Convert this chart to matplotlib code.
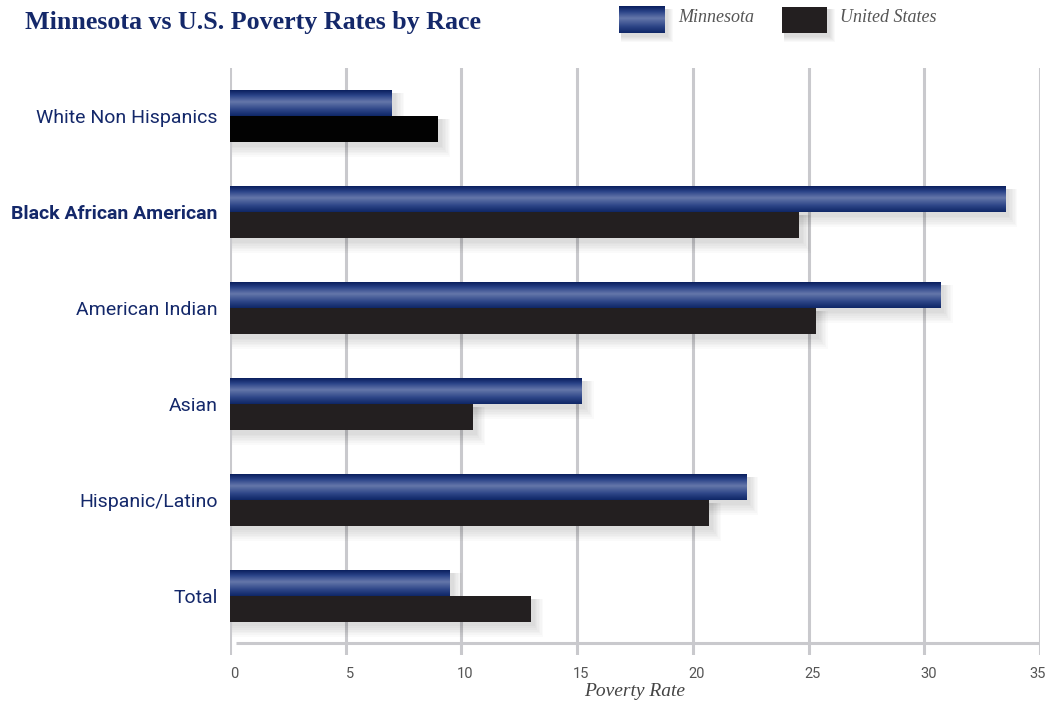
import matplotlib
matplotlib.use("Agg")
import matplotlib.pyplot as plt
import numpy as np
from matplotlib.colors import LinearSegmentedColormap
from matplotlib.patches import Rectangle
from matplotlib.transforms import ScaledTranslation

categories = ["White Non Hispanics", "Black African American", "American Indian",
              "Asian", "Hispanic/Latino", "Total"]
minnesota = [7.0, 33.5, 30.7, 15.2, 22.3, 9.5]
united_states = [9.0, 24.6, 25.3, 10.5, 20.7, 13.0]
xticks = [0, 5, 10, 15, 20, 25, 30, 35]

NAVY = "#14286a"
GRID = "#c9c9cd"
sans = ["Roboto", "DejaVu Sans"]
serif = ["Liberation Serif", "DejaVu Serif"]

fig = plt.figure(figsize=(10.47, 7.02), dpi=100)
ax = fig.add_axes([230/1047, 1-655/702, 810/1047, 587/702])
ax.set_xlim(0, 35)
ax.set_ylim(5.615, -0.5)

for s in ax.spines.values():
    s.set_visible(False)
ax.tick_params(length=0)

for t in xticks:
    ax.axvline(t, color=GRID, lw=2.2, zorder=0)
ax.plot([0.25, 35], [5.49, 5.49], color=GRID, lw=2.2, zorder=0.5, solid_capstyle="butt")

cmap = LinearSegmentedColormap.from_list(
    "mn", [(0, "#0a1f5e"), (0.2, "#2a4388"), (0.45, "#6577aa"), (0.75, "#2e4688"), (1, "#0f2767")])
grad = np.linspace(0, 1, 64).reshape(-1, 1)

h = 0.27

def shadow(x0, y0, w, hh):
    for k in range(1, 8):
        ax.add_patch(Rectangle((x0 + 0.1, y0 + 0.03), w + 0.06 * k, hh + 0.018 * k,
                               facecolor="black", alpha=0.018, lw=0, zorder=1))

for i, (mn, us) in enumerate(zip(minnesota, united_states)):
    shadow(0, i - h, mn, h)
    shadow(0, i, us, h)
    ax.imshow(grad, cmap=cmap, aspect="auto", extent=(0, mn, i, i - h),
              zorder=3, interpolation="bilinear")
    color = "#020202" if i == 0 else "#231f20"
    ax.barh(i + h / 2, us, height=h, color=color, zorder=3)

ax.set_xlim(0, 35)
ax.set_ylim(5.615, -0.5)

ax.set_yticks(range(len(categories)))
ax.set_yticklabels(categories, fontsize=14, color=NAVY, family=sans)
ax.get_yticklabels()[1].set_fontweight("bold")
ax.tick_params(axis="y", pad=9)
ax.set_xticks(xticks)
ax.set_xticklabels([str(t) for t in xticks], fontsize=10.5, color="#555555", family=sans)
ax.tick_params(axis="x", pad=9)
off = ScaledTranslation(4/100, 0, fig.dpi_scale_trans)
labels = ax.get_xticklabels()
for lbl in labels:
    lbl.set_horizontalalignment("center")
    lbl.set_transform(lbl.get_transform() + off)
labels[-1].set_horizontalalignment("right")
labels[-1].set_transform(labels[-1].get_transform() + ScaledTranslation(2/100, 0, fig.dpi_scale_trans))
ax.set_xlabel("Poverty Rate", fontsize=14, style="italic", color="#444444", family=serif, labelpad=1)

fig.text(25/1047, 1-23/702, "Minnesota vs U.S. Poverty Rates by Race", fontsize=18.7,
         fontweight="bold", color=NAVY, family=serif, va="center")

# legend
lax = fig.add_axes([0, 0, 1, 1], zorder=5)
lax.set_xlim(0, 1047)
lax.set_ylim(702, 0)
lax.axis("off")
for k in range(1, 7):
    lax.add_patch(Rectangle((621, 9), 46 + k, 27 + k, facecolor="black", alpha=0.025, lw=0))
    lax.add_patch(Rectangle((784, 9), 45 + k, 27 + k, facecolor="black", alpha=0.025, lw=0))
lax.imshow(grad, cmap=cmap, aspect="auto", extent=(619, 665, 33, 6), interpolation="bilinear", zorder=3)
lax.add_patch(Rectangle((782, 7), 45, 26, facecolor="#231f20", lw=0, zorder=3))
lax.set_xlim(0, 1047)
lax.set_ylim(702, 0)
lax.text(678, 18, "Minnesota", fontsize=13, style="italic", color="#555555", family=serif, va="center")
lax.text(840, 18, "United States", fontsize=13, style="italic", color="#555555", family=serif, va="center")

fig.savefig("out.png", dpi=100)
